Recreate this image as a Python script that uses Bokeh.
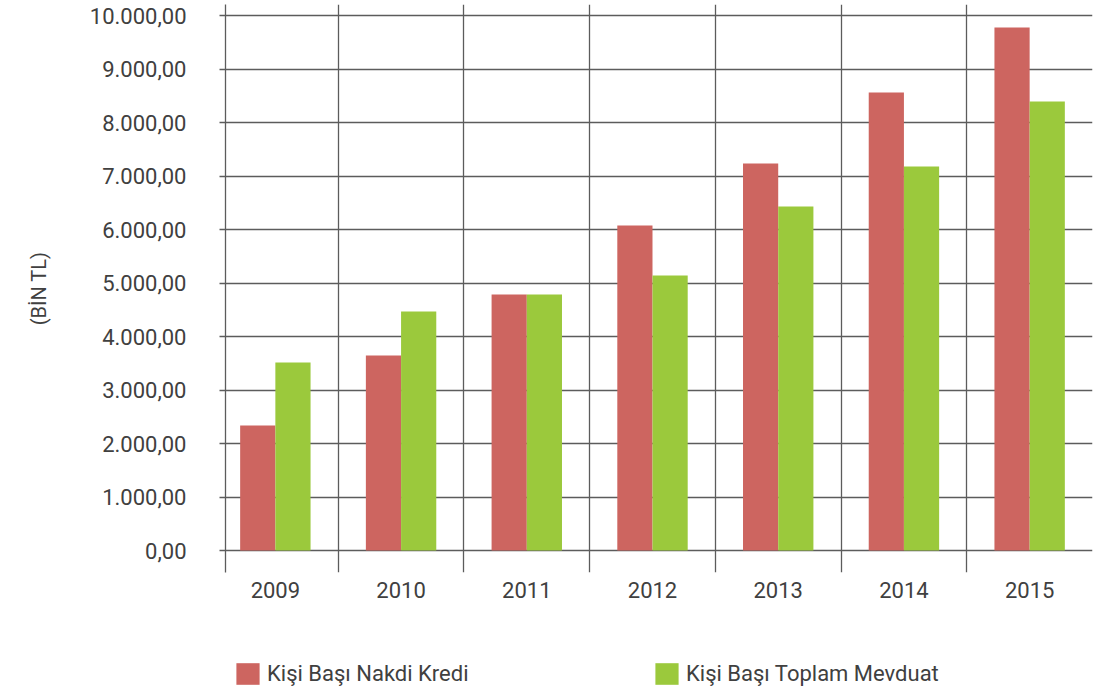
from bokeh.plotting import figure
from bokeh.layouts import column
from bokeh.models import FixedTicker, Legend, LegendItem, ColumnDataSource
from bokeh.transform import dodge
from bokeh.embed import file_html
from bokeh.resources import INLINE

# ---- data ----
years = ["2009", "2010", "2011", "2012", "2013", "2014", "2015"]
nakdi_kredi = [2336, 3645, 4785, 6075, 7234, 8561, 9776]
toplam_mevduat = [3514, 4467, 4785, 5140, 6430, 7178, 8393]
y_ticks = [0, 1000, 2000, 3000, 4000, 5000, 6000, 7000, 8000, 9000, 10000]
series_names = ["Kişi Başı Nakdi Kredi", "Kişi Başı Toplam Mevduat"]
y_label = "(BİN TL)"

RED = "#CD6560"
GREEN = "#9BC93C"
LINE = "#5c5c5c"
TXT = "#404040"
FONT = "Roboto"

n = len(years)
idx = list(range(n))
src = ColumnDataSource(dict(x=idx, kredi=nakdi_kredi, mevduat=toplam_mevduat))

def tr_fmt(v):
    s = f"{v:,.2f}"
    return s.replace(",", "X").replace(".", ",").replace("X", ".")

ppu = 535 / 10000.0
p = figure(width=1099, height=620,
           x_range=(-0.5 + 13 / 125.7, n - 0.5),
           y_range=(-22 / ppu, 10000 + 11 / ppu),
           output_backend="svg", toolbar_location=None,
           min_border_left=225, min_border_right=7,
           min_border_top=4, min_border_bottom=48)
p.outline_line_color = None
p.background_fill_color = "white"
p.border_fill_color = "white"

r1 = p.vbar(x=dodge("x", -0.14, range=p.x_range), top="kredi", width=0.28,
            source=src, fill_color=RED, line_color=None)
r2 = p.vbar(x=dodge("x", 0.14, range=p.x_range), top="mevduat", width=0.28,
            source=src, fill_color=GREEN, line_color=None)

# grids
p.xgrid.ticker = FixedTicker(ticks=[i + 0.5 for i in idx])
p.ygrid.ticker = FixedTicker(ticks=y_ticks)
for g in (p.xgrid, p.ygrid):
    g.grid_line_color = LINE
    g.grid_line_width = 1.3

# y axis
ya = p.yaxis[0]
ya.ticker = FixedTicker(ticks=y_ticks)
ya.major_label_overrides = {v: tr_fmt(v) for v in y_ticks}
ya.axis_line_color = LINE
ya.axis_line_width = 1.3
ya.major_tick_line_color = LINE
ya.major_tick_line_width = 1.3
ya.major_tick_out = 6
ya.major_tick_in = 0
ya.minor_tick_line_color = None
ya.major_label_standoff = 33
ya.major_label_text_font = FONT
ya.major_label_text_font_size = "22px"
ya.major_label_text_color = TXT
ya.axis_label = y_label
ya.axis_label_text_font = FONT
ya.axis_label_text_font_size = "20px"
ya.axis_label_text_font_style = "normal"
ya.axis_label_text_color = TXT
ya.axis_label_standoff = 36

# x axis
xa = p.xaxis[0]
xa.ticker = FixedTicker(ticks=idx)
xa.major_label_overrides = {i: years[i] for i in idx}
xa.axis_line_color = None
xa.major_tick_line_color = None
xa.minor_tick_line_color = None
xa.major_tick_out = 0
xa.major_tick_in = 0
xa.major_label_standoff = 9
xa.major_label_text_font = FONT
xa.major_label_text_font_size = "22px"
xa.major_label_text_color = TXT

# ---- legend strip below the chart ----
lf = figure(width=1099, height=71, x_range=(0, 1), y_range=(0, 1),
            output_backend="svg", toolbar_location=None,
            x_axis_type=None, y_axis_type=None,
            min_border_left=225, min_border_right=7,
            min_border_top=0, min_border_bottom=0)
lf.outline_line_color = None
lf.grid.visible = False
lr1 = lf.vbar(x="x", top="kredi", width=0.28, source=src,
              fill_color=RED, line_color=None, visible=False)
lr2 = lf.vbar(x="x", top="mevduat", width=0.28, source=src,
              fill_color=GREEN, line_color=None, visible=False)

for r, name, xoff in ((lr1, series_names[0], 8), (lr2, series_names[1], 427)):
    lg = Legend(items=[LegendItem(label=name, renderers=[r])],
                location=(xoff, 4), orientation="horizontal",
                glyph_width=29, glyph_height=27, label_height=22,
                label_standoff=5, padding=0, margin=0, spacing=0,
                border_line_color=None, background_fill_alpha=0,
                inactive_fill_alpha=0,
                label_text_font=FONT, label_text_font_size="22px",
                label_text_color=TXT)
    lf.add_layout(lg, "center")

layout = column(p, lf, spacing=0)
open("out.html", "w").write(file_html(layout, INLINE))
